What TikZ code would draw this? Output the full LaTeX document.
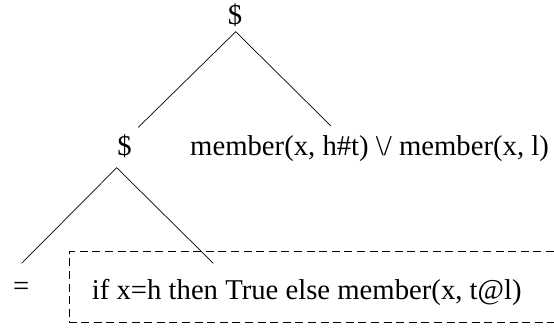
\documentclass[tikz,border=0pt]{standalone}
\usepackage{fontspec}
\setmainfont{Liberation Serif}
\begin{document}
\begin{tikzpicture}[x=1pt,y=-1pt,
  every node/.style={inner sep=0pt, font=\fontsize{28.7}{34}\selectfont},
  edge/.style={line width=0.7pt},
  frame/.style={line width=0.7pt, dash pattern=on 8pt off 4.6pt}]
\useasboundingbox (0,0) rectangle (554,327);
% nodes
\node[anchor=base] (root) at (235,24) {\$};
\node[anchor=base] (lft) at (124.5,155) {\$};
\node[anchor=base west] (rgt) at (190,155) {member(x, h\#t) \textbackslash/ member(x, l)};
\node[anchor=base] (eq) at (21.3,295) {=};
\node[anchor=base west] (cond) at (91.7,299) {if x=h then True else member(x, t@l)};
% connector end points
\coordinate (ra) at (235.7,31.7);
\coordinate (rl) at (138.3,127.3);
\coordinate (rr) at (331,126);
\coordinate (la) at (116.7,167.7);
\coordinate (ll) at (21.7,263.3);
\coordinate (lr) at (213.3,263.3);
\draw[edge] (rl) -- (ra) -- (rr);
\draw[edge] (ll) -- (la) -- (lr);
% dashed frame around the condition (open on the right)
\coordinate (ftr) at (554,251.7);
\coordinate (ftl) at (69.3,251.7);
\coordinate (fbl) at (69.3,322.2);
\coordinate (fbr) at (554,322.2);
\draw[frame] (ftr) -- (ftl) -- (fbl) -- (fbr);
\end{tikzpicture}
\end{document}
